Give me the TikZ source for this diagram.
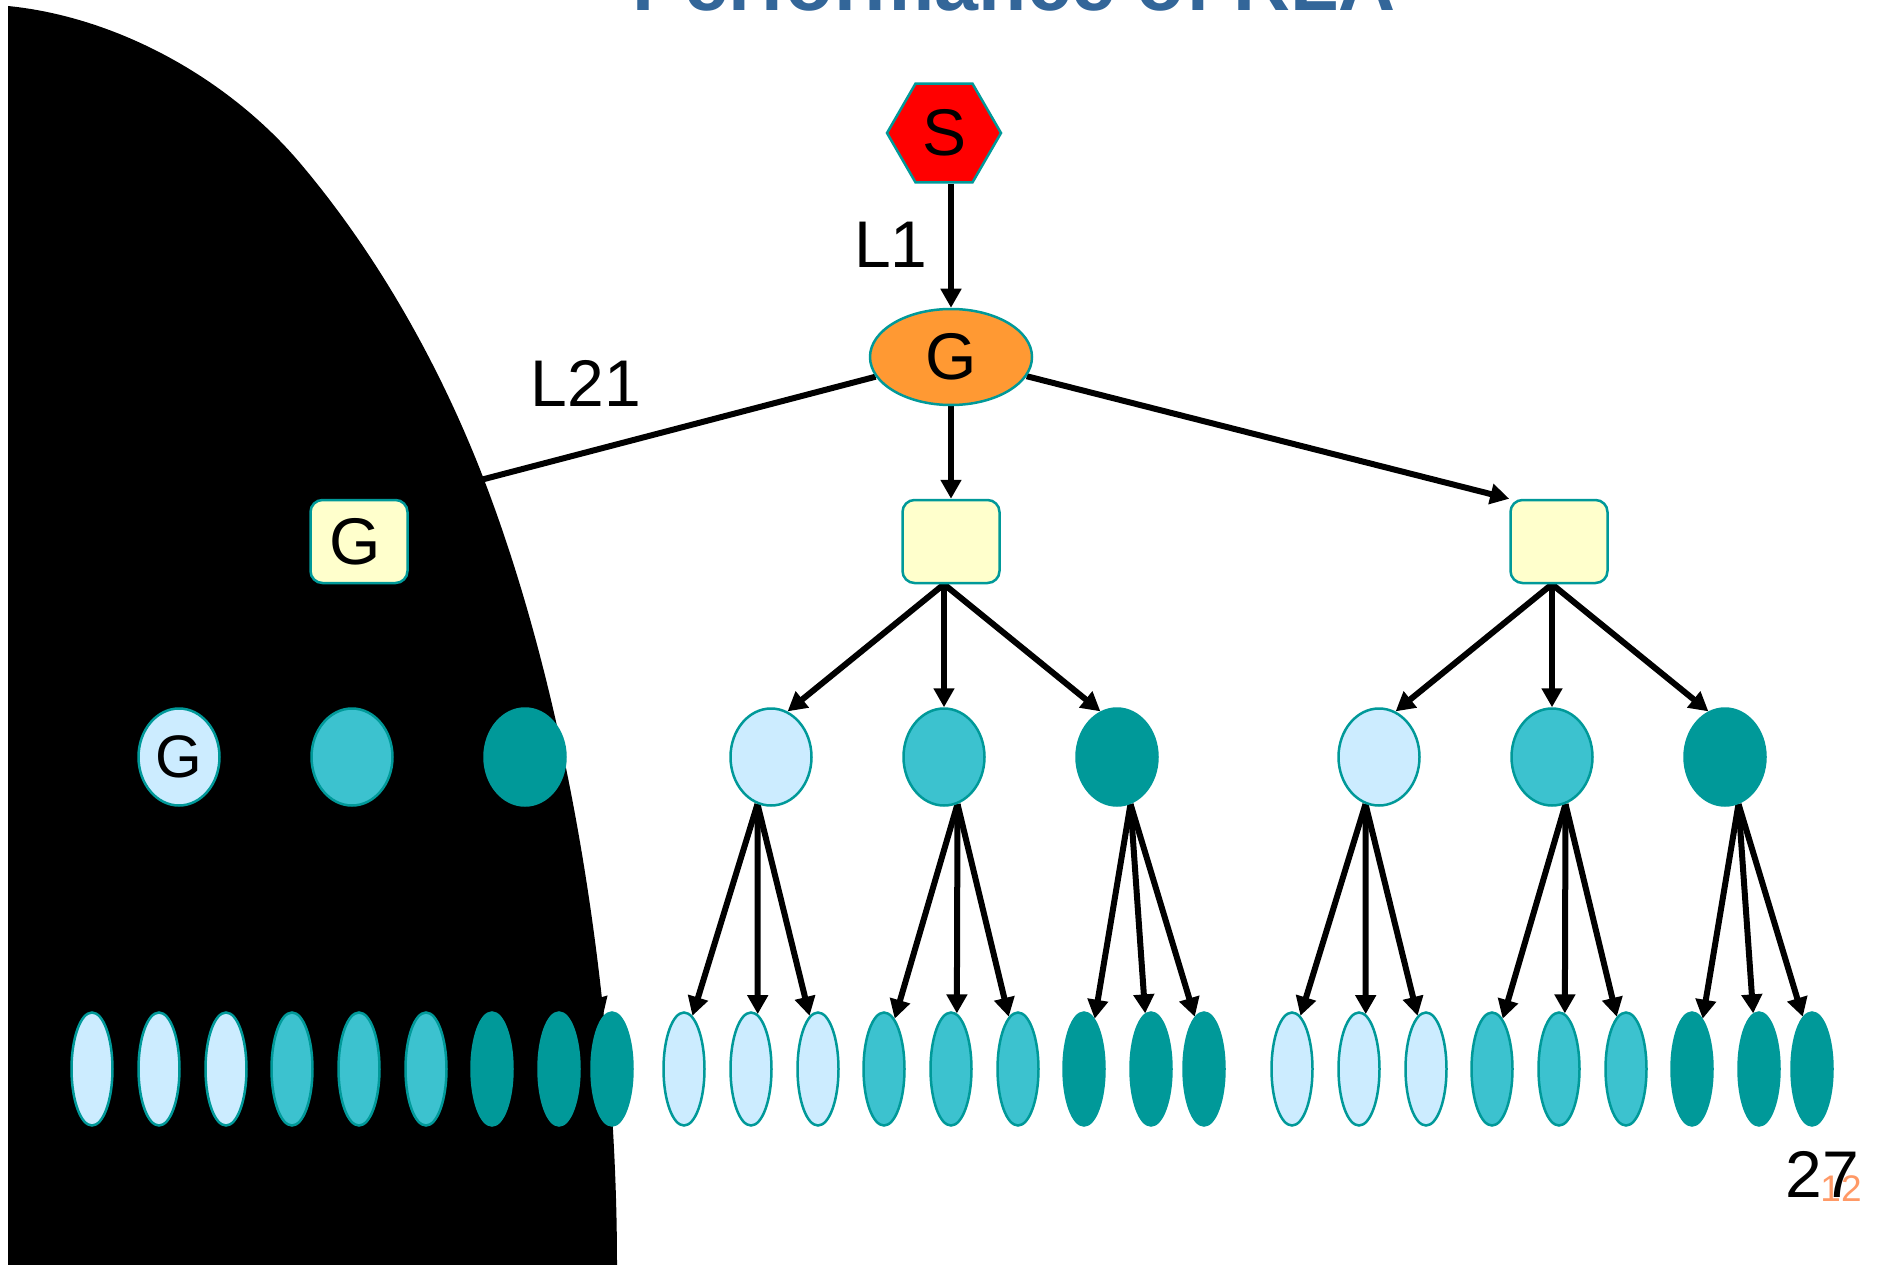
\documentclass[tikz,border=0pt]{standalone}
\usepackage{fontspec}
\setmainfont{Liberation Sans}
\usetikzlibrary{shapes.geometric,arrows.meta,calc}
\definecolor{teal9}{HTML}{009999}
\definecolor{lightc}{HTML}{CCECFF}
\definecolor{medc}{HTML}{3CC2CF}
\definecolor{boxc}{HTML}{FFFFCC}
\definecolor{orangec}{HTML}{FF9933}
\definecolor{titlec}{HTML}{336699}
\definecolor{pagec}{HTML}{FF9966}
\pgfdeclarelayer{paper}
\pgfdeclarelayer{edges}
\pgfdeclarelayer{mask}
\pgfsetlayers{paper,edges,mask,main}
\begin{document}
\begin{tikzpicture}[x=1pt,y=-1pt,
  bigfont/.style={font={\fontsize{66}{70}\selectfont}},
  lbl/.style={bigfont, inner sep=0pt},
  arr/.style={line width=6pt, -{Triangle[width=20pt,length=19pt]}},
  bubble/.style={ellipse, draw=teal9, line width=2.5pt, minimum width=81pt, minimum height=97pt, inner sep=0pt, font={\fontsize{60}{64}\selectfont}},
  leaf/.style={ellipse, draw=teal9, line width=2.5pt, minimum width=41pt, minimum height=113pt, inner sep=0pt},
  sbox/.style={rectangle, rounded corners=12pt, draw=teal9, line width=2.5pt, fill=boxc, minimum width=97pt, minimum height=83pt, inner sep=0pt, bigfont},
]
\useasboundingbox (0,0) rectangle (1877,1265);
\begin{pgfonlayer}{paper}
\fill[white] (0,0) rectangle (1877,1265);
\end{pgfonlayer}

% title (mostly cut off by the page top)
\node[font={\bfseries\fontsize{79}{84}\selectfont}, text=titlec, anchor=base, inner sep=0pt] (title) at (1014,11) {Performance of RLA};

% top nodes
\node[regular polygon, regular polygon sides=6, minimum size=114pt, inner sep=0pt, fill=red, draw=teal9, line width=2.5pt, bigfont] (S) at (944,133) {S};
\node[ellipse, fill=orangec, draw=teal9, line width=2.5pt, minimum width=162pt, minimum height=96pt, inner sep=0pt, bigfont] (G) at (951,357) {G};
\node[lbl] (L1) at (891,245) {L1};
\node[lbl] (L21) at (586,383) {L21};

% boxes
\node[sbox] (b-1) at (359,541.5) {\raisebox{-7pt}{G}\hspace*{8pt}};
\node[sbox] (b-2) at (951,541.5) {};
\node[sbox] (b-3) at (1559,541.5) {};

% circles and leaves
\foreach \g/\bx in {1/359,2/951,3/1559} {
  \node[bubble, fill=lightc] (c-\g-1) at ({\bx-180},757) {};
  \node[bubble, fill=medc] (c-\g-2) at ({\bx-7},757) {};
  \node[bubble, fill=teal9] (c-\g-3) at ({\bx+166},757) {};
  \foreach \k/\o/\f in {1/-267/lightc,2/-200/lightc,3/-133/lightc,4/-67/medc,5/0/medc,6/67/medc,7/133/teal9,8/200/teal9,9/253/teal9} {
    \node[leaf, fill=\f] (l-\g-\k) at ({\bx+(\o)},1069) {};
  }
}
\node[font={\fontsize{60}{64}\selectfont}, inner sep=0pt] (gc) at (c-1-1) {G};

% page number
\node[lbl] (pg) at (1822,1174) {27};
\node[font={\fontsize{37}{40}\selectfont}, text=pagec, inner sep=0pt] (pgs) at (1841,1189) {12};

% connectors
\begin{pgfonlayer}{edges}
\draw[arr] (S.south -| G.north) -- (G.north);
\draw[arr] (G) -- (b-1.north east);
\draw[arr] (G) -- (b-3.north west);
\draw[arr] (G.south) -- (b-2.north);
\foreach \g in {1,2,3} {
  \coordinate (bs-\g) at ([xshift=-7pt]b-\g.south);
  \draw[arr] (bs-\g) -- (c-\g-1.70);
  \draw[arr] (bs-\g) -- (c-\g-2.north);
  \draw[arr] (bs-\g) -- (c-\g-3.110);
  \draw[arr] (c-\g-1.254) -- (l-\g-1.81);
  \draw[arr] (c-\g-1.254) -- (l-\g-2.83);
  \draw[arr] (c-\g-1.254) -- (l-\g-3.99);
  \draw[arr] (c-\g-2.286) -- (l-\g-4.78);
  \draw[arr] (c-\g-2.286) -- (l-\g-5.84);
  \draw[arr] (c-\g-2.286) -- (l-\g-6.100);
  \draw[arr] (c-\g-3.286) -- (l-\g-7.78);
  \draw[arr] (c-\g-3.286) -- (l-\g-8.96);
  \draw[arr] (c-\g-3.286) -- (l-\g-9.100);
}
\end{pgfonlayer}

% black mask shape
\begin{pgfonlayer}{mask}
\fill[black] (8,1265) -- (8,6)
  .. controls (118,17) and (229,79) .. (300,163)
  .. controls (377.5,254.6) and (439.7,365.2) .. (483,477)
  .. controls (573,710) and (617,1015) .. (617,1265) -- cycle;
\end{pgfonlayer}
\end{tikzpicture}
\end{document}
